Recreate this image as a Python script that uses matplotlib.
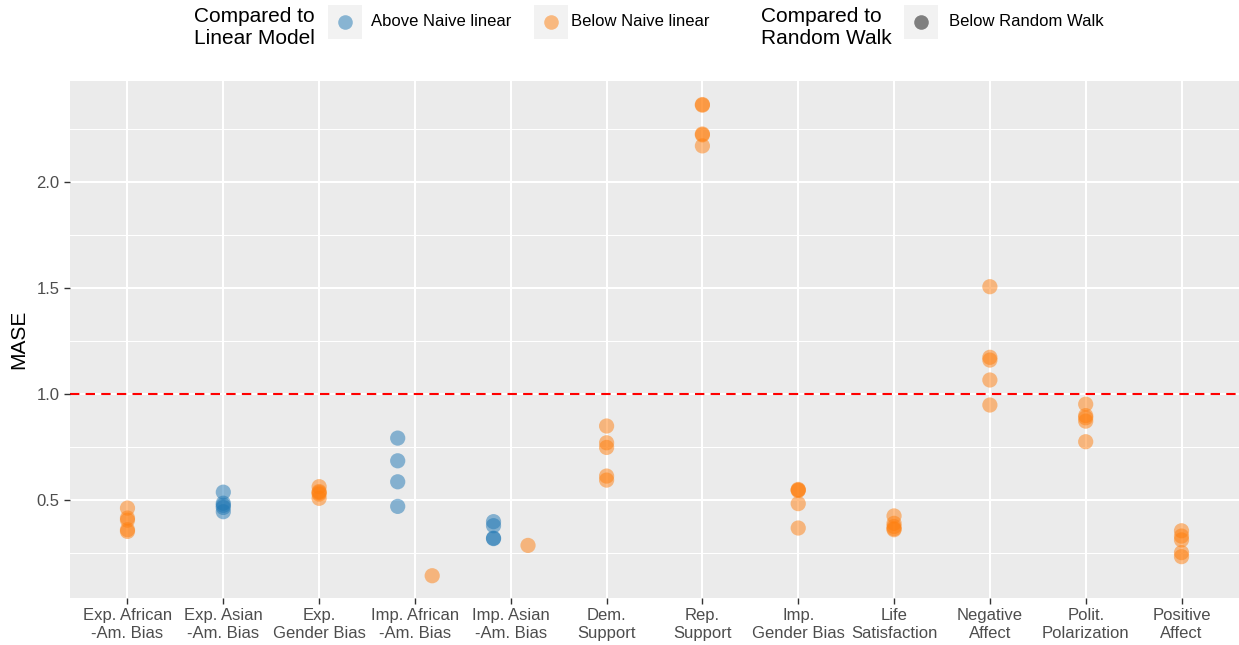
import matplotlib
matplotlib.use("Agg")
import matplotlib.pyplot as plt
from matplotlib.patches import Rectangle
from matplotlib.lines import Line2D

plt.rcParams['font.family'] = ['Liberation Sans', 'DejaVu Sans']

categories = [
    "Exp. African\n-Am. Bias", "Exp. Asian\n-Am. Bias", "Exp.\nGender Bias",
    "Imp. African\n-Am. Bias", "Imp. Asian\n-Am. Bias", "Dem.\nSupport",
    "Rep.\nSupport", "Imp.\nGender Bias", "Life\nSatisfaction",
    "Negative\nAffect", "Polit.\nPolarization", "Positive\nAffect",
]

# MASE per model, split by comparison with the naive linear model
above_naive = [
    [], [0.537, 0.485, 0.475, 0.465, 0.445], [],
    [0.792, 0.685, 0.586, 0.470], [0.398, 0.379, 0.320, 0.318], [],
    [], [], [], [], [], [],
]
below_naive = [
    [0.462, 0.415, 0.405, 0.360, 0.352], [], [0.563, 0.540, 0.535, 0.528, 0.508],
    [0.143], [0.286], [0.849, 0.770, 0.748, 0.613, 0.594],
    [2.365, 2.362, 2.226, 2.222, 2.170], [0.550, 0.547, 0.545, 0.483, 0.368],
    [0.425, 0.390, 0.375, 0.365, 0.360],
    [1.506, 1.173, 1.160, 1.066, 0.948], [0.952, 0.898, 0.888, 0.872, 0.775],
    [0.355, 0.330, 0.312, 0.252, 0.233],
]
reference_level = 1.0

BLUE = "#1f77b4"
ORANGE = "#ff7f0e"
TXT = "#4D4D4D"

W, H = 1239, 645
fig = plt.figure(figsize=(W / 100, H / 100), dpi=100)
ax = fig.add_axes([70 / W, 1 - 598 / H, (W - 70) / W, (598 - 81) / H])
ax.set_facecolor("#EBEBEB")
for s in ax.spines.values():
    s.set_visible(False)

ax.set_xlim(0.4, 12.6)
ax.set_ylim(0.038, 2.476)

# grid
for y in [0.25, 0.75, 1.25, 1.75, 2.25]:
    ax.axhline(y, color="white", lw=0.75, zorder=0)
for y in [0.5, 1.0, 1.5, 2.0]:
    ax.axhline(y, color="white", lw=1.5, zorder=0)
for i in range(len(categories)):
    ax.axvline(i + 1, color="white", lw=1.5, zorder=0)

ax.axhline(reference_level, color="red", lw=1.5, ls=(0, (4.5, 3)), zorder=1)

dodge = 0.18
for i, (a, b) in enumerate(zip(above_naive, below_naive)):
    both = len(a) > 0 and len(b) > 0
    xa = i + 1 - dodge if both else i + 1
    xb = i + 1 + dodge if both else i + 1
    if a:
        ax.scatter([xa] * len(a), a, s=120, color=BLUE, alpha=0.5,
                   edgecolors="none", zorder=3)
    if b:
        ax.scatter([xb] * len(b), b, s=120, color=ORANGE, alpha=0.5,
                   edgecolors="none", zorder=3)

ax.set_xticks(range(1, len(categories) + 1))
ax.set_xticklabels(categories, fontsize=12, color=TXT, linespacing=1.25)
ax.set_yticks([0.5, 1.0, 1.5, 2.0])
ax.set_yticklabels(["0.5", "1.0", "1.5", "2.0"], fontsize=12, color=TXT)
ax.tick_params(axis="both", color="#333333", length=4, width=1)
ax.tick_params(axis="x", pad=3)
ax.set_ylabel("MASE", fontsize=15, color="black", labelpad=6)

# legend drawn in figure pixel coordinates
def fx(px):
    return px / W

def fy(py):
    return 1 - py / H

title_kw = dict(fontsize=15, color="black", va="center", ha="left", linespacing=1.2)
lab_kw = dict(fontsize=12, color="black", va="center", ha="left")

fig.text(fx(194), fy(28), "Compared to\nLinear Model", **title_kw)
fig.text(fx(761), fy(28), "Compared to\nRandom Walk", **title_kw)

keys = [
    (345, BLUE, 0.5, "Above Naive linear", 371),
    (551, ORANGE, 0.5, "Below Naive linear", 571),
    (921, "#333333", 0.6, "Below Random Walk", 949),
]
for cx, col, al, lab, tx in keys:
    fig.patches.append(Rectangle((fx(cx - 17), fy(39)), 34 / W, 34 / H,
                                 transform=fig.transFigure, facecolor="#F2F2F2",
                                 edgecolor="none"))
    fig.lines.append(Line2D([fx(cx)], [fy(22)], transform=fig.transFigure,
                            marker="o", markersize=10.5, color=col, alpha=al,
                            markeredgewidth=0, linestyle="none"))
    fig.text(fx(tx), fy(22), lab, **lab_kw)

fig.savefig("out.png", dpi=100, facecolor="white")
